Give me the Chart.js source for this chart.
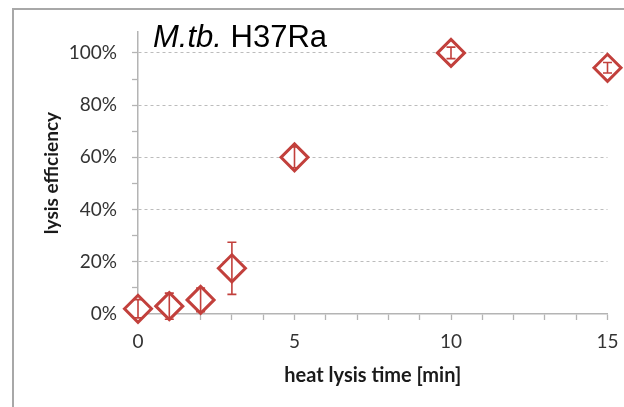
<!DOCTYPE html>
<html>
<head>
<meta charset="utf-8">
<script src="https://cdn.jsdelivr.net/npm/chart.js@4.4.0/dist/chart.umd.min.js"></script>
<style>
  html, body { margin: 0; padding: 0; background: #fff; overflow: hidden; }
  #wrap { position: relative; width: 624px; height: 407px; }
  #frame { position: absolute; left: 12px; top: 8px; width: 700px; height: 500px; border: 2px solid #a8a8a8; box-sizing: border-box; }
  canvas { position: absolute; left: 0; top: 0; }
</style>
</head>
<body>
<div id="wrap">
  <div id="frame"></div>
  <canvas id="c" width="624" height="407"></canvas>
</div>
<script>
// Data
const heatTimes = [0, 1, 2, 3, 5, 10, 15];              // minutes
const lysisEfficiency = [0.02, 0.03, 0.054, 0.175, 0.60, 1.00, 0.943];
const lysisError = [0.035, 0.05, 0.045, 0.10, 0.04, 0.022, 0.02];
const yTickLabels = ['0%', '20%', '40%', '60%', '80%', '100%'];
const xTickLabels = ['0', '5', '10', '15'];
const chartTitleItalic = 'M.tb.';
const chartTitleRest = ' H37Ra';
const xTitle = 'heat lysis time [min]';
const yTitle = 'lysis efficiency';

const RED = '#c2403c';
const AXIS = '#b4b4b4';

const errorBarPlugin = {
  id: 'errorBars',
  afterDatasetsDraw(chart) {
    const ctx = chart.ctx;
    const xs = chart.scales.x, ys = chart.scales.y;
    ctx.save();
    ctx.strokeStyle = RED;
    ctx.lineWidth = 1.6;
    heatTimes.forEach((t, i) => {
      const px = xs.getPixelForValue(t);
      const top = ys.getPixelForValue(lysisEfficiency[i] + lysisError[i]);
      const bot = ys.getPixelForValue(lysisEfficiency[i] - lysisError[i]);
      ctx.beginPath();
      ctx.moveTo(px, top); ctx.lineTo(px, bot);
      ctx.moveTo(px - 4.5, top); ctx.lineTo(px + 4.5, top);
      ctx.moveTo(px - 4.5, bot); ctx.lineTo(px + 4.5, bot);
      ctx.stroke();
    });
    ctx.restore();
  }
};

const titlePlugin = {
  id: 'mixedTitle',
  afterDraw(chart) {
    const ctx = chart.ctx;
    const a = chart.chartArea;
    ctx.save();
    ctx.fillStyle = '#000';
    ctx.textBaseline = 'alphabetic';
    let x = a.left + 15;
    const y = 47;
    ctx.font = 'italic 31px "Liberation Sans", Arial, sans-serif';
    ctx.fillText(chartTitleItalic, x, y);
    x += ctx.measureText(chartTitleItalic).width;
    ctx.font = '31px "Liberation Sans", Arial, sans-serif';
    ctx.fillText(chartTitleRest, x, y);
    ctx.restore();
  }
};

new Chart(document.getElementById('c'), {
  type: 'scatter',
  data: {
    datasets: [{
      data: heatTimes.map((t, i) => ({ x: t, y: lysisEfficiency[i] })),
      pointStyle: 'rectRot',
      pointRadius: 13.5,
      pointHoverRadius: 13.5,
      pointBorderWidth: 3,
      pointBorderColor: RED,
      pointBackgroundColor: '#ffffff',
      showLine: false,
      clip: false
    }]
  },
  options: {
    responsive: false,
    animation: false,
    events: [],
    layout: { padding: { left: 0, right: 16, top: 32, bottom: 0 } },
    plugins: { legend: { display: false }, tooltip: { enabled: false } },
    scales: {
      x: {
        type: 'linear',
        min: 0, max: 15,
        afterFit(s) { s.height = 93; s.paddingLeft = 0; s.paddingRight = 0; },
        ticks: {
          stepSize: 1,
          autoSkip: false,
          maxRotation: 0,
          padding: 10,
          color: '#333333',
          font: { family: 'Lato', size: 19 },
          callback: (v) => xTickLabels.includes(String(v)) ? String(v) : ''
        },
        grid: { drawOnChartArea: false, drawTicks: true, tickLength: 6, tickColor: AXIS, tickWidth: 1.3 },
        border: { display: true, color: AXIS, width: 1.5 },
        title: {
          display: true, text: xTitle, color: '#1a1a1a',
          font: { family: 'Lato', size: 20, weight: 'bold' },
          padding: { top: 0, bottom: 19 }
        }
      },
      y: {
        type: 'linear',
        min: 0, max: 1.08,
        afterFit(s) { s.width = 138; s.paddingTop = 0; s.paddingBottom = 0; },
        afterBuildTicks(s) {
          s.ticks = [0, 0.1, 0.2, 0.3, 0.4, 0.5, 0.6, 0.7, 0.8, 0.9, 1.0].map(v => ({ value: v }));
        },
        ticks: {
          padding: 15,
          color: '#333333',
          font: { family: 'Lato', size: 19 },
          callback: (v) => {
            const idx = Math.round(v * 100) / 20;
            return Number.isInteger(idx) ? yTickLabels[idx] : '';
          }
        },
        grid: {
          drawTicks: true, tickLength: 6, tickWidth: 1.3, tickColor: AXIS,
          lineWidth: 1,
          color: (c) => {
            const v = Math.round(c.tick.value * 100);
            return (v % 20 === 0 && v !== 0) ? '#bcbcbc' : 'rgba(0,0,0,0)';
          }
        },
        border: { display: true, color: AXIS, width: 1.5, dash: [3, 3] },
        title: {
          display: true, text: yTitle, color: '#1a1a1a',
          font: { family: 'Lato', size: 19, weight: 'bold' },
          padding: { top: 40, bottom: 0 }
        }
      }
    }
  },
  plugins: [errorBarPlugin, titlePlugin]
});
</script>
</body>
</html>
